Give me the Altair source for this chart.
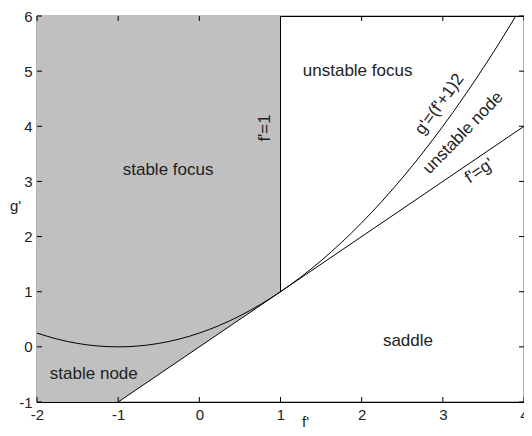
import altair as alt
import pandas as pd

# ---- data ----
x_ticks = [-2, -1, 0, 1, 2, 3, 4]
y_ticks = [-1, 0, 1, 2, 3, 4, 5, 6]

# shaded (stable) region: lower and upper bounds
shade_f = [-2, -1, 1]
shade_lo = [-1, -1, 1]
shade_hi = [6, 6, 6]

# curve g' = (f'+1)^2 / 4
curve_f = [-2.0, -1.75, -1.5, -1.25, -1.0, -0.75, -0.5, -0.25, 0.0, 0.25, 0.5, 0.75,
           1.0, 1.25, 1.5, 1.75, 2.0, 2.25, 2.5, 2.75, 3.0, 3.25, 3.5, 3.75, 3.9]
curve_g = [0.25, 0.1406, 0.0625, 0.0156, 0.0, 0.0156, 0.0625, 0.1406, 0.25, 0.3906,
           0.5625, 0.7656, 1.0, 1.2656, 1.5625, 1.8906, 2.25, 2.6406, 3.0625, 3.5156,
           4.0, 4.5156, 5.0625, 5.6406, 6.0025]

# line f' = g'
line_f = [-1, 4]
line_g = [-1, 4]

# vertical boundary f' = 1
vline_f = [1]
vline_lo = [1]
vline_hi = [6]

labels = ["stable focus", "unstable focus", "stable node", "saddle",
          "g'=(f'+1)2", "unstable node", "f'=g'", "f'=1"]
label_f = [-0.385, 1.95, -1.30, 2.57, 2.96, 3.25, 3.45, 0.81]
label_g = [3.21, 5.01, -0.50, 0.115, 4.40, 3.88, 3.19, 3.97]
label_angle = [0, 0, 0, 0, 306, 314, 326, 270]

W, H = 487, 386
FONT = "Liberation Sans"
TXT = "#222222"

xs = alt.Scale(domain=[-2, 4], nice=False, zero=False)
ys = alt.Scale(domain=[-1, 6], nice=False, zero=False)

shade_df = pd.DataFrame({"f": shade_f, "lo": shade_lo, "hi": shade_hi})
curve_df = pd.DataFrame({"f": curve_f, "g": curve_g})
line_df = pd.DataFrame({"f": line_f, "g": line_g})
vline_df = pd.DataFrame({"f": vline_f, "lo": vline_lo, "hi": vline_hi})
lab_df = pd.DataFrame({"t": labels, "f": label_f, "g": label_g, "a": label_angle})
xt_df = pd.DataFrame({"v": x_ticks})
yt_df = pd.DataFrame({"v": y_ticks})

x_axis = alt.Axis(values=x_ticks, ticks=False, domain=False, grid=False,
                  labelFont=FONT, labelFontSize=15, labelColor=TXT, labelPadding=5,
                  labelExpr="datum.value", labelFlush=False,
                  title="f'", titleFont=FONT, titleFontSize=15, titleFontWeight="normal",
                  titleColor=TXT, titleX=268, titleY=19, titleBaseline="middle",
                  titleAlign="center")
y_axis = alt.Axis(values=y_ticks, ticks=False, domain=False, grid=False,
                  labelFont=FONT, labelFontSize=15, labelColor=TXT, labelPadding=5,
                  labelExpr="datum.value", labelFlush=False,
                  title="g'", titleFont=FONT, titleFontSize=15, titleFontWeight="normal",
                  titleColor=TXT, titleAngle=0, titleX=-22, titleY=189,
                  titleBaseline="middle", titleAlign="center")

shade = alt.Chart(shade_df).mark_area(color="#c0c0c0", opacity=1).encode(
    x=alt.X("f:Q", scale=xs, axis=x_axis),
    y=alt.Y("lo:Q", scale=ys, axis=y_axis),
    y2="hi:Q",
)

vline = alt.Chart(vline_df).mark_rule(color="#000000", strokeWidth=1).encode(
    x=alt.X("f:Q", scale=xs), y=alt.Y("lo:Q", scale=ys), y2="hi:Q")

curve = alt.Chart(curve_df).mark_line(color="#000000", strokeWidth=1, clip=True,
                                      interpolate="monotone").encode(
    x=alt.X("f:Q", scale=xs), y=alt.Y("g:Q", scale=ys))

line = alt.Chart(line_df).mark_line(color="#000000", strokeWidth=1, clip=True).encode(
    x=alt.X("f:Q", scale=xs), y=alt.Y("g:Q", scale=ys))

text = alt.Chart(lab_df).mark_text(font=FONT, fontSize=17, color=TXT,
                                   align="center", baseline="middle").encode(
    x=alt.X("f:Q", scale=xs), y=alt.Y("g:Q", scale=ys), text="t:N",
    angle=alt.Angle("a:Q", scale=None))

TL = 5
tick_bottom = alt.Chart(xt_df).mark_rule(color="#000000").encode(
    x=alt.X("v:Q", scale=xs), y=alt.value(H), y2=alt.value(H - TL))
tick_top = alt.Chart(xt_df).mark_rule(color="#000000").encode(
    x=alt.X("v:Q", scale=xs), y=alt.value(0), y2=alt.value(TL))
tick_left = alt.Chart(yt_df).mark_rule(color="#000000").encode(
    y=alt.Y("v:Q", scale=ys), x=alt.value(0), x2=alt.value(TL))
tick_right = alt.Chart(yt_df).mark_rule(color="#000000").encode(
    y=alt.Y("v:Q", scale=ys), x=alt.value(W), x2=alt.value(W - TL))

chart = alt.layer(shade, vline, curve, line, text,
                  tick_bottom, tick_top, tick_left, tick_right).properties(
    width=W, height=H,
    autosize=alt.AutoSizeParams(type="none"),
    padding={"left": 29, "top": 8, "right": 0, "bottom": 26},
    background="white",
).configure_view(stroke="#000000", strokeWidth=1.2)

chart.save("out.html", embed_options={"renderer": "svg", "actions": False})
